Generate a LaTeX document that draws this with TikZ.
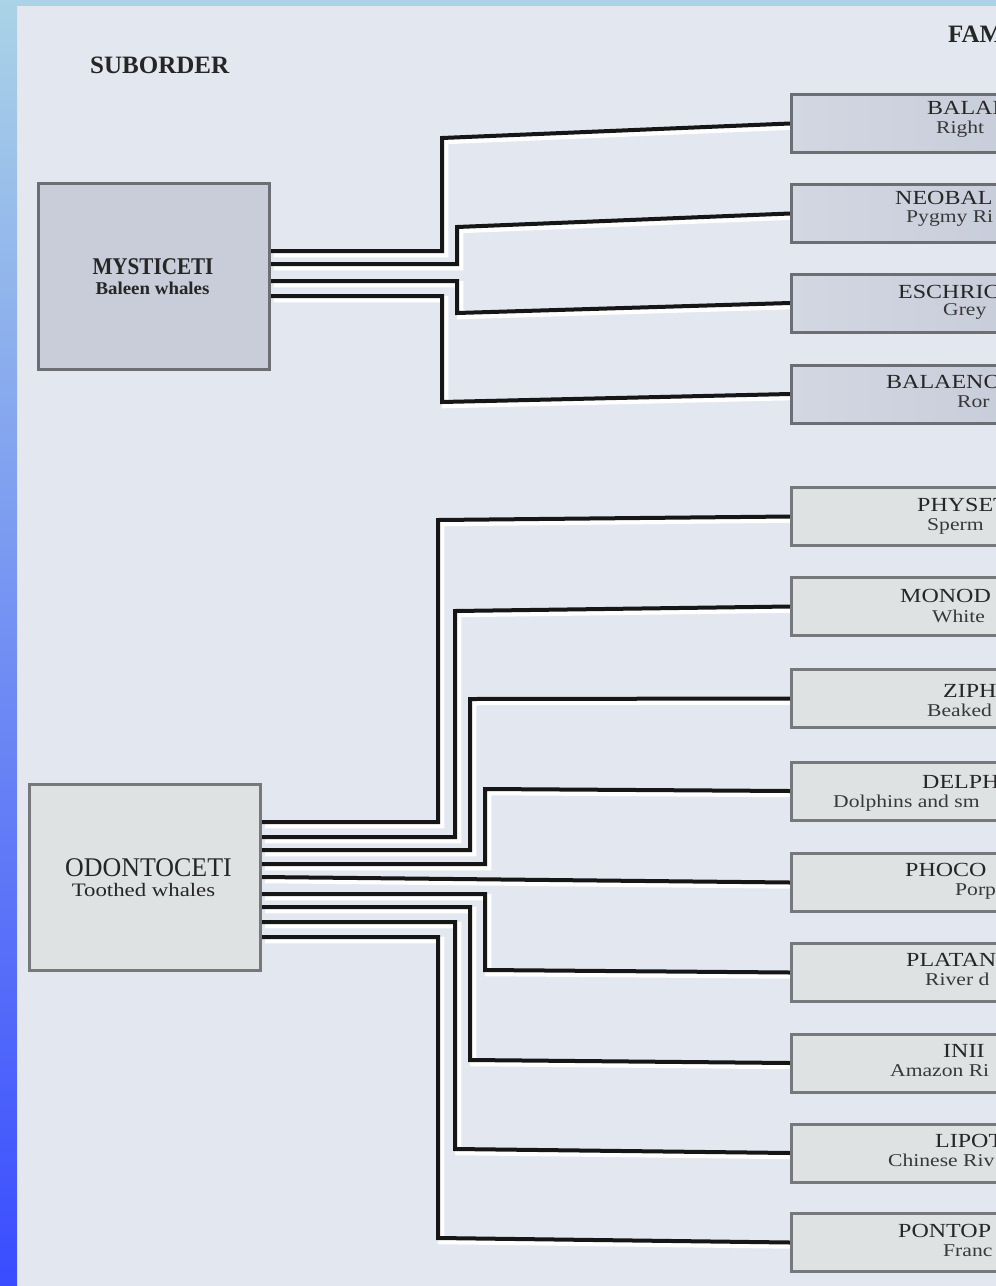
\documentclass[tikz,border=0pt]{standalone}
\usepackage{fontspec}
\setmainfont{Liberation Serif}
\newfontfamily\famfont[FakeStretch=1.2]{Liberation Serif}
\usetikzlibrary{calc}
\pgfdeclarelayer{bg}
\pgfdeclarelayer{back}
\pgfsetlayers{bg,back,main}
\definecolor{page}{HTML}{E3E7EF}
\definecolor{sideTop}{HTML}{AAD3E7}
\definecolor{sideMid}{HTML}{82A0F0}
\definecolor{sideBot}{HTML}{3A4CFF}
\definecolor{mysFill}{HTML}{C9CDDA}
\definecolor{mysL}{HTML}{D3D7E2}
\definecolor{mysR}{HTML}{C3C8D7}
\definecolor{mysEdge}{HTML}{6C6E74}
\definecolor{odoF}{HTML}{DEE2E3}
\definecolor{odoEdge}{HTML}{76787B}
\definecolor{lineblack}{HTML}{161616}
\definecolor{txt}{HTML}{262626}
\definecolor{txtB}{HTML}{383838}
\newcommand\drawwires{%
  \draw[wirestyle] (m1) -- (442,251) -- (442,138) -- (f1.west);
  \draw[wirestyle] (m2) -- (457,264) -- (457,227) -- (f2.west);
  \draw[wirestyle] (m3) -- (457,281) -- (457,313) -- (f3.west);
  \draw[wirestyle] (m4) -- (442,296) -- (442,402) -- (f4.west);
  \draw[wirestyle] (o1) -- (438,822) -- (438,520) -- (f5.west);
  \draw[wirestyle] (o2) -- (455,837) -- (455,611) -- (f6.west);
  \draw[wirestyle] (o3) -- (470,850) -- (470,699) -- (f7.west);
  \draw[wirestyle] (o4) -- (485,864) -- (485,789) -- (f8.west);
  \draw[wirestyle] (o5) -- (f9.west);
  \draw[wirestyle] (o6) -- (485,894) -- (485,970) -- (f10.west);
  \draw[wirestyle] (o7) -- (470,907) -- (470,1060) -- (f11.west);
  \draw[wirestyle] (o8) -- (455,922) -- (455,1149) -- (f12.west);
  \draw[wirestyle] (o9) -- (438,937) -- (438,1238) -- (f13.west);
}
\begin{document}
\begin{tikzpicture}[x=1pt,y=-1pt,
  conn/.style={draw=lineblack,line width=4pt,line join=miter,line cap=butt},
  halo/.style={draw=white,line width=6.5pt,line join=miter,line cap=butt},
  famM/.style={draw=mysEdge,line width=3pt,minimum width=330pt,minimum height=58pt,
    anchor=west,inner sep=0pt,left color=mysL,right color=mysR},
  famO/.style={draw=odoEdge,line width=3pt,minimum width=330pt,minimum height=58pt,
    anchor=west,inner sep=0pt,fill=odoF},
  ttl/.style={anchor=base west,inner sep=0pt,text=txt,font=\famfont\fontsize{20}{20}\selectfont},
  sub/.style={anchor=base west,inner sep=0pt,text=txtB,font=\famfont\fontsize{18}{18}\selectfont},
  head/.style={anchor=base west,inner sep=0pt,text=txt,font=\bfseries\fontsize{25}{25}\selectfont},
  bigbox/.style={line width=3pt,minimum width=231pt,minimum height=186pt,inner sep=0pt},
  ctr/.style={anchor=base,inner sep=0pt,text=txt}]
\useasboundingbox (0,0) rectangle (996,1286);
\begin{pgfonlayer}{bg}
  \fill[page] (0,0) rectangle (996,1286);
  \shade[top color=sideTop,middle color=sideMid,bottom color=sideBot] (0,0) rectangle (17,1286);
  \fill[sideTop] (0,0) rectangle (996,6);
\end{pgfonlayer}
\clip (0,0) rectangle (996,1286);

% headers
\node[head] (hsub) at (90,73) {SUBORDER};
\node[head] (hfam) at (948,42) {FAM};

% suborder boxes
\node[bigbox,draw=mysEdge,fill=mysFill] (mys) at (153.5,276) {};
\node[ctr,font=\bfseries\fontsize{24}{24}\selectfont] (mysT) at (153,274) {\scalebox{0.88}[1]{MYSTICETI}};
\node[ctr,font=\bfseries\fontsize{18}{18}\selectfont] (mysS) at (152.5,294) {\scalebox{1.05}[1]{Baleen whales}};

\node[bigbox,draw=odoEdge,fill=odoF] (odo) at (145,877.5) {};
\node[ctr,font=\fontsize{27}{27}\selectfont] (odoT) at (148.5,876) {\scalebox{0.96}[1]{ODONTOCETI}};
\node[ctr,font=\famfont\fontsize{19}{19}\selectfont] (odoS) at (143.5,896) {Toothed whales};

% family boxes
\node[famM] (f1) at (790,123.5) {};
\node[famM] (f2) at (790,213.5) {};
\node[famM] (f3) at (790,303) {};
\node[famM] (f4) at (790,394) {};
\node[famO] (f5) at (790,516.5) {};
\node[famO] (f6) at (790,606.5) {};
\node[famO] (f7) at (790,698.5) {};
\node[famO] (f8) at (790,791) {};
\node[famO] (f9) at (790,882.5) {};
\node[famO] (f10) at (790,972.5) {};
\node[famO] (f11) at (790,1063) {};
\node[famO] (f12) at (790,1153) {};
\node[famO] (f13) at (790,1242.5) {};

% family labels
\node[ttl] (t1) at (927,114) {BALAE};
\node[sub] (s1) at (936,133) {Right};
\node[ttl] (t2) at (895,204) {NEOBAL};
\node[sub] (s2) at (906,222) {Pygmy Ri};
\node[ttl] (t3) at (898,298) {ESCHRIC};
\node[sub] (s3) at (943,315) {Grey};
\node[ttl] (t4) at (886,388) {BALAENO};
\node[sub] (s4) at (957,407) {Ror};
\node[ttl] (t5) at (917,511) {PHYSET};
\node[sub] (s5) at (927,530) {Sperm};
\node[ttl] (t6) at (900,602) {MONOD};
\node[sub] (s6) at (932,622) {White};
\node[ttl] (t7) at (943,697) {ZIPH};
\node[sub] (s7) at (927,716) {Beaked};
\node[ttl] (t8) at (922,788) {DELPH};
\node[sub] (s8) at (833,807) {Dolphins and sm};
\node[ttl] (t9) at (905,876) {PHOCO};
\node[sub] (s9) at (955,895) {Porp};
\node[ttl] (t10) at (906,966) {PLATAN};
\node[sub] (s10) at (925,985) {River d};
\node[ttl] (t11) at (943,1057) {INII};
\node[sub] (s11) at (890,1076) {Amazon Ri};
\node[ttl] (t12) at (935,1147) {LIPOT};
\node[sub] (s12) at (888,1166) {Chinese Riv};
\node[ttl] (t13) at (898,1237) {PONTOP};
\node[sub] (s13) at (943,1256) {Franc};

% wire start points
\coordinate (m1) at (mys.east |- 0,251);
\coordinate (m2) at (mys.east |- 0,264);
\coordinate (m3) at (mys.east |- 0,281);
\coordinate (m4) at (mys.east |- 0,296);
\coordinate (o1) at (odo.east |- 0,822);
\coordinate (o2) at (odo.east |- 0,837);
\coordinate (o3) at (odo.east |- 0,850);
\coordinate (o4) at (odo.east |- 0,864);
\coordinate (o5) at (odo.east |- 0,877);
\coordinate (o6) at (odo.east |- 0,894);
\coordinate (o7) at (odo.east |- 0,907);
\coordinate (o8) at (odo.east |- 0,922);
\coordinate (o9) at (odo.east |- 0,937);

\begin{pgfonlayer}{back}
  \begin{scope}[transform canvas={xshift=3pt,yshift=-3pt},wirestyle/.style={halo}]
    \drawwires
  \end{scope}
  \begin{scope}[wirestyle/.style={conn}]
    \drawwires
  \end{scope}
\end{pgfonlayer}
\end{tikzpicture}
\end{document}
